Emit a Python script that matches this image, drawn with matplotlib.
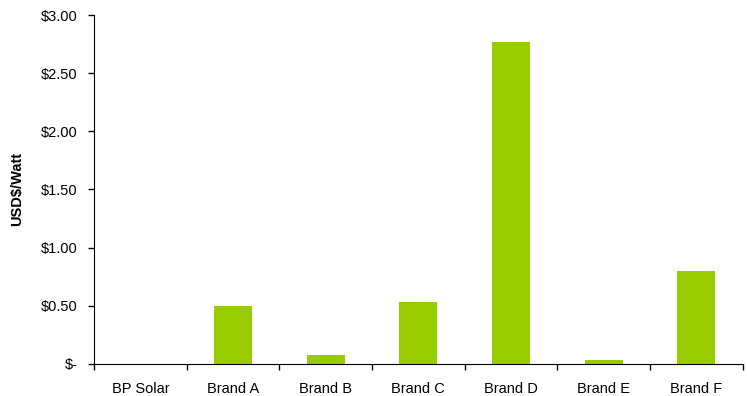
import numpy as np
import matplotlib.pyplot as plt
from matplotlib.ticker import FuncFormatter

brands = ["BP Solar", "Brand A", "Brand B", "Brand C", "Brand D", "Brand E", "Brand F"]
usd_per_watt = [0.0, 0.50, 0.07, 0.53, 2.77, 0.03, 0.80]

plt.rcParams['font.family'] = ['Liberation Sans', 'DejaVu Sans']

fig = plt.figure(figsize=(7.47, 3.96), dpi=100)
ax = fig.add_axes([0.126, 0.082, 0.868, 0.879])

x = np.arange(len(brands))
ax.bar(x, usd_per_watt, width=0.41, color="#99CC00")

ax.set_xlim(-0.5, len(brands) - 0.5)
ax.set_ylim(0, 3.0)
ax.set_yticks(np.arange(0, 3.01, 0.5))

def money(v, pos):
    return "$-" if v == 0 else "${:.2f}".format(v)

ax.yaxis.set_major_formatter(FuncFormatter(money))
ax.set_xticks(x)
ax.set_xticklabels(brands)
ax.set_xticks(np.arange(-0.5, len(brands)), minor=True)
ax.tick_params(axis="x", which="major", length=0, pad=13, labelsize=10.5)
ax.tick_params(axis="x", which="minor", length=4, width=1, direction="out")
ax.tick_params(axis="y", length=4, width=1, pad=8, labelsize=10.5)

ax.spines["top"].set_visible(False)
ax.spines["right"].set_visible(False)
ax.set_ylabel("USD$/Watt", fontweight="bold", fontsize=10.5, labelpad=12)

fig.savefig("out.png", dpi=100)
